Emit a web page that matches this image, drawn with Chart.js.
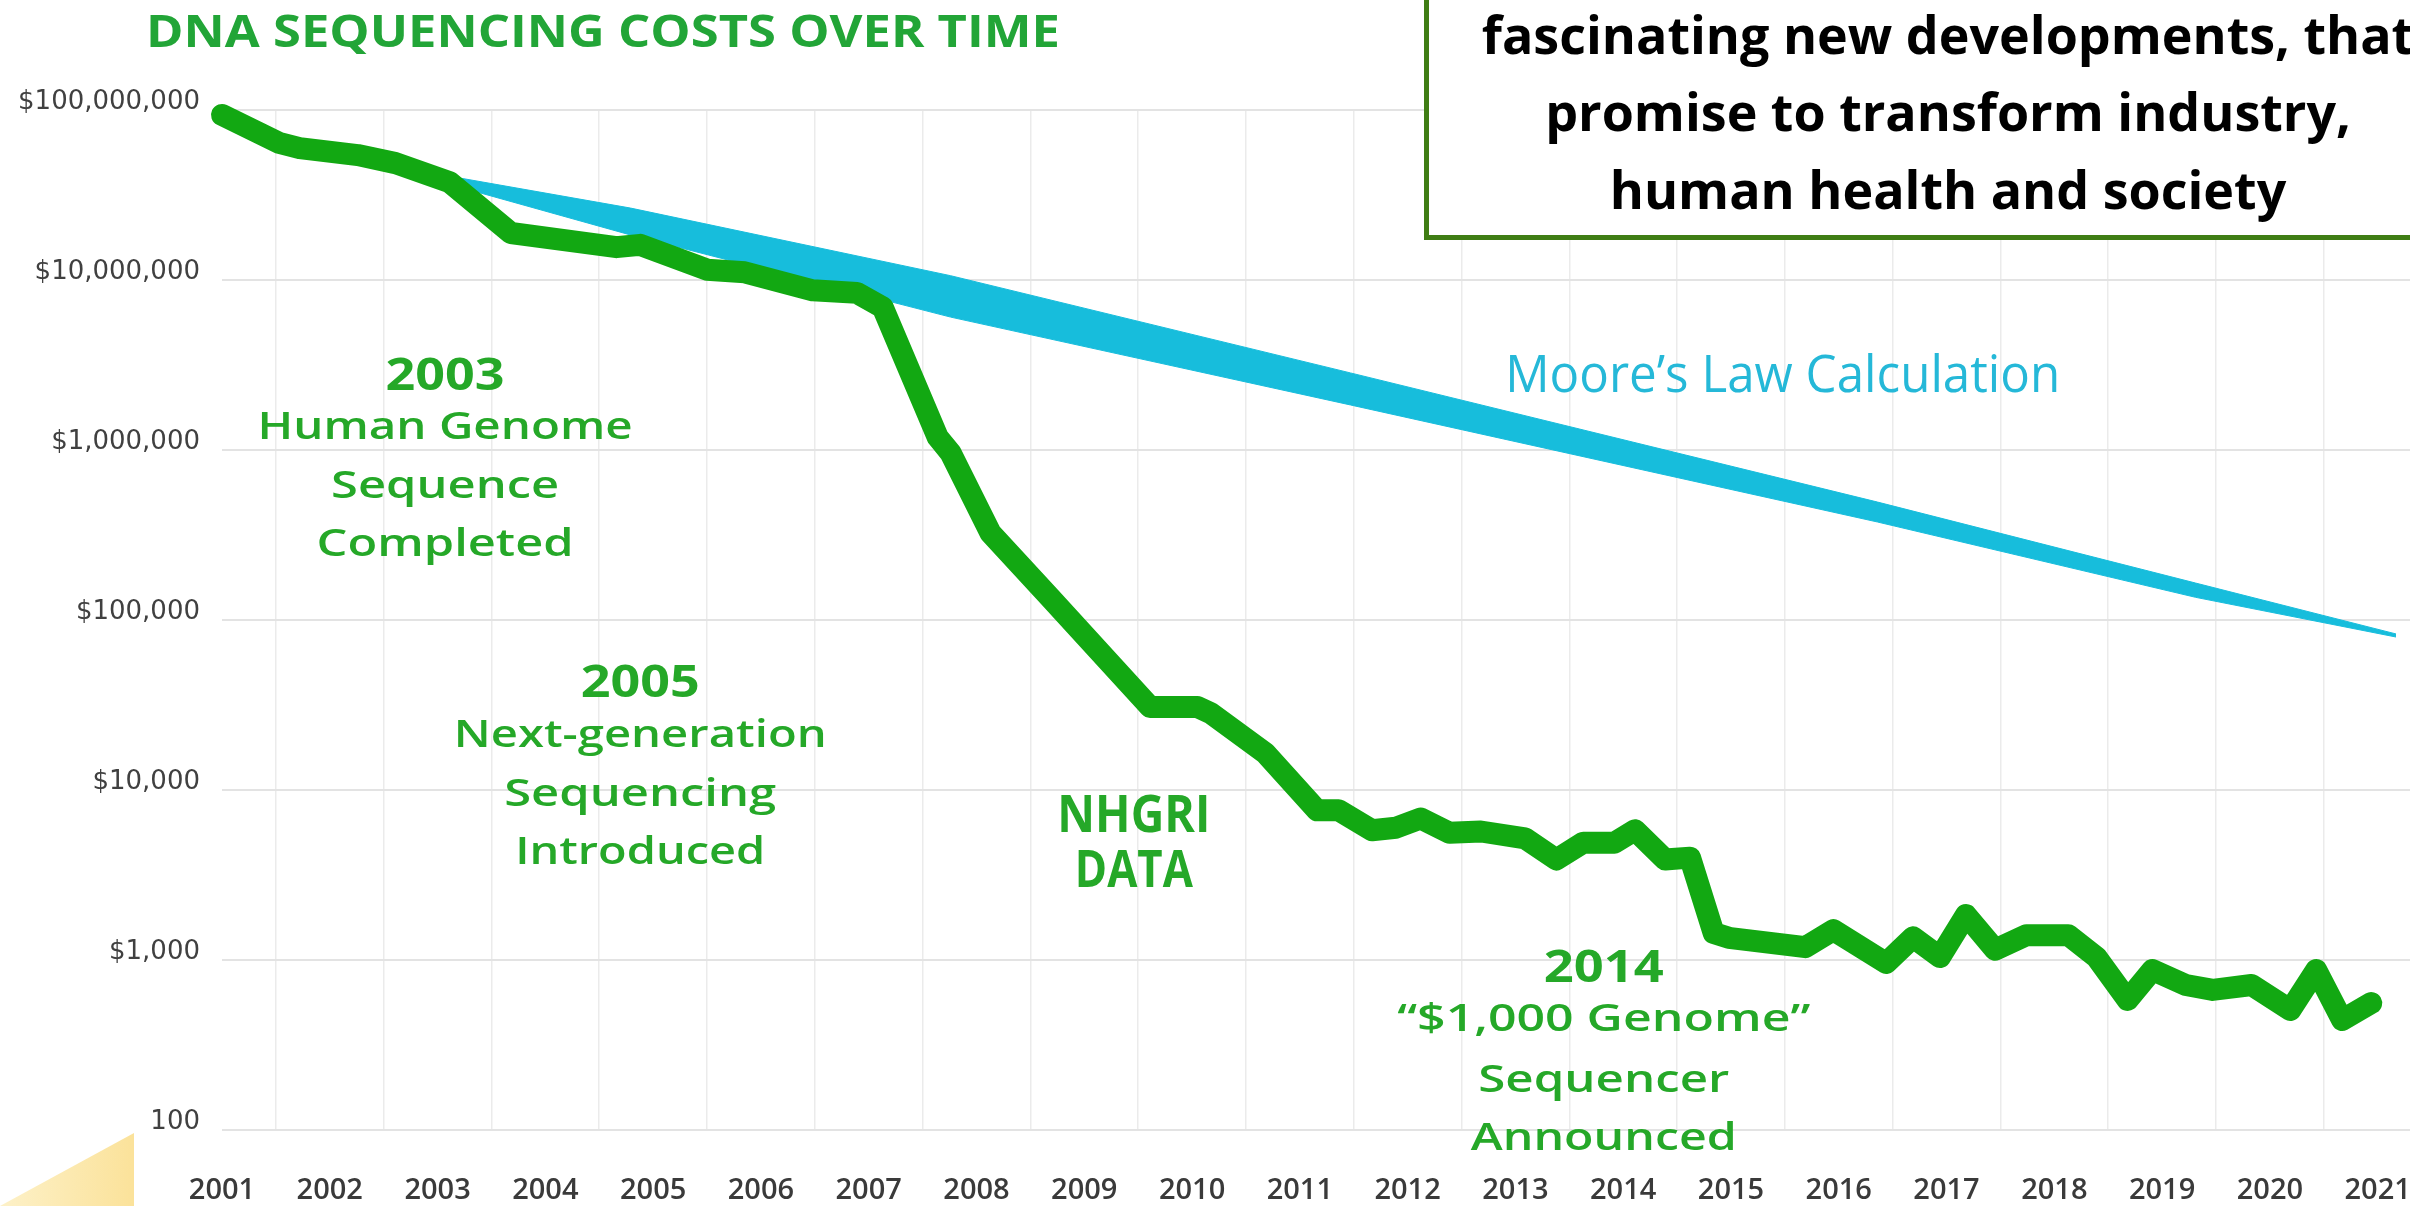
<!DOCTYPE html>
<html>
<head>
<meta charset="utf-8">
<title>DNA sequencing costs over time</title>
<script src="https://cdn.jsdelivr.net/npm/chart.js@4.4.1/dist/chart.umd.min.js"></script>
<style>
  html, body { margin: 0; padding: 0; background: #fff; }
  body { position: relative; width: 2410px; height: 1206px; overflow: hidden; }
  #chart { position: absolute; left: 0; top: 0; display: block; }
  .note {
    position: absolute; left: 1424px; top: -50px; width: 1038px;
    padding: 39.5px 0 8px; border: 5px solid #3f7d14; background: #fff;
    font: 700 52px/77.5px "Open Sans", sans-serif; color: #000;
    text-align: center; white-space: nowrap;
  }
  .wedge {
    position: absolute; left: 0; top: 1133px; width: 134px; height: 73px;
    background: linear-gradient(90deg, #fdf1c8, #fbe29a);
    clip-path: polygon(100% 0, 100% 100%, 0 100%);
  }
</style>
</head>
<body>
<canvas id="chart" width="2410" height="1206"></canvas>
<div class="wedge"></div>
<div class="note">fascinating new developments, that<br>promise to transform industry,<br>human health and society</div>

<script>
// NHGRI cost per genome (USD)
const costYears = [2001.00, 2001.53, 2001.72, 2002.26, 2002.61, 2003.11, 2003.68, 2004.66, 2004.88, 2005.50,
  2005.85, 2006.48, 2006.89, 2007.13, 2007.64, 2007.76, 2008.13, 2008.68, 2009.61, 2010.05,
  2010.17, 2010.68, 2011.16, 2011.36, 2011.67, 2011.89, 2012.12, 2012.39, 2012.68, 2013.09,
  2013.38, 2013.63, 2013.92, 2014.11, 2014.39, 2014.62, 2014.84, 2014.98, 2015.69, 2015.95,
  2016.44, 2016.69, 2016.94, 2017.18, 2017.45, 2017.74, 2018.13, 2018.39, 2018.68, 2018.91,
  2019.22, 2019.47, 2019.83, 2020.19, 2020.43, 2020.67, 2020.94];
const costValues = [93500000, 64000000, 59700000, 54300000, 48700000, 37700000, 18900000, 15600000, 16100000, 11500000,
  11100000, 8700000, 8400000, 6900000, 1190000, 960000, 325000, 136000, 30800, 30800,
  28400, 16500, 7600, 7600, 5800, 6000, 6800, 5600, 5700, 5200,
  3900, 4900, 4900, 5800, 3900, 4000, 1440, 1350, 1190, 1500,
  960, 1360, 1040, 1840, 1150, 1400, 1400, 1040, 582, 873,
  713, 667, 713, 508, 873, 444, 558];

// Moore's law band, upper and lower edge
const mooreYears = [2003.10, 2004.79, 2007.76, 2011.47, 2016.36, 2019.31, 2021.17];
const mooreUpper = [40900000, 26500000, 10600000, 2840000, 494000, 165000, 82800];
const mooreLower = [36700000, 18400000, 6050000, 1840000, 377000, 136000, 79400];

// axes
const yearTicks = [2001, 2002, 2003, 2004, 2005, 2006, 2007, 2008, 2009, 2010, 2011,
  2012, 2013, 2014, 2015, 2016, 2017, 2018, 2019, 2020, 2021];
const costTicks = [100, 1000, 10000, 100000, 1000000, 10000000, 100000000];
const costTickLabels = ["100", "$1,000", "$10,000", "$100,000", "$1,000,000", "$10,000,000", "$100,000,000"];

const green = "#12a812";
const textGreen = "#25a828";
const cyan = "#17bddc";

// annotations: at = [year, log10 of cost at the baseline], width = drawn text width
const notes = [
  { text: "2003", at: [2003.07, 6.353], size: 44, weight: 700, width: 119, color: textGreen },
  { text: "Human Genome", at: [2003.07, 6.065], size: 38, weight: 600, width: 375, color: textGreen },
  { text: "Sequence", at: [2003.07, 5.718], size: 38, weight: 600, width: 228, color: textGreen },
  { text: "Completed", at: [2003.07, 5.376], size: 38, weight: 600, width: 257, color: textGreen },
  { text: "2005", at: [2004.88, 4.547], size: 44, weight: 700, width: 119, color: textGreen },
  { text: "Next-generation", at: [2004.88, 4.253], size: 38, weight: 600, width: 373, color: textGreen },
  { text: "Sequencing", at: [2004.88, 3.906], size: 38, weight: 600, width: 272, color: textGreen },
  { text: "Introduced", at: [2004.88, 3.565], size: 38, weight: 600, width: 250, color: textGreen },
  { text: "NHGRI", at: [2009.46, 3.753], size: 52, weight: 700, width: 153, color: textGreen },
  { text: "DATA", at: [2009.46, 3.429], size: 52, weight: 700, width: 118, color: textGreen },
  { text: "2014", at: [2013.82, 2.871], size: 44, weight: 700, width: 120, color: textGreen },
  { text: "\u201c$1,000 Genome\u201d", at: [2013.82, 2.582], size: 38, weight: 600, width: 413, color: textGreen },
  { text: "Sequencer", at: [2013.82, 2.224], size: 38, weight: 600, width: 251, color: textGreen },
  { text: "Announced", at: [2013.82, 1.882], size: 38, weight: 600, width: 266, color: textGreen },
  { text: "Moore\u2019s Law Calculation", at: [2015.48, 6.341], size: 51, weight: 400, width: 555, color: "#25b8d8" },
  { text: "DNA SEQUENCING COSTS OVER TIME", px: [603, 47], size: 45, weight: 700, width: 914, color: "#22a537" }
];

const slideText = {
  id: "slideText",
  afterDraw(chart) {
    const ctx = chart.ctx;
    const x = chart.scales.x;
    const y = chart.scales.y;
    ctx.save();
    ctx.textAlign = "center";
    ctx.textBaseline = "alphabetic";
    notes.forEach((n) => {
      const px = n.at ? x.getPixelForValue(n.at[0]) : n.px[0];
      const py = n.at ? y.getPixelForValue(Math.pow(10, n.at[1])) : n.px[1];
      ctx.font = n.weight + " " + n.size + 'px "Open Sans", sans-serif';
      const w = ctx.measureText(n.text).width;
      ctx.save();
      ctx.translate(px, py);
      ctx.scale(n.width / w, 1);
      ctx.fillStyle = n.color;
      ctx.fillText(n.text, 0, 0);
      ctx.restore();
    });
    ctx.restore();
  }
};

const pairs = (xs, ys) => xs.map((v, i) => ({ x: v, y: ys[i] }));

let ctx = document.getElementById("chart").getContext("2d");
let myChart = new Chart(ctx, {
  type: "line",
  data: {
    datasets: [
      {
        label: "NHGRI data",
        data: pairs(costYears, costValues),
        borderColor: green,
        borderWidth: 22,
        borderJoinStyle: "round",
        borderCapStyle: "round",
        pointRadius: 0,
        fill: false,
        clip: false
      },
      {
        label: "Moore's law upper",
        data: pairs(mooreYears, mooreUpper),
        borderColor: cyan,
        borderWidth: 1,
        pointRadius: 0,
        fill: false
      },
      {
        label: "Moore's law lower",
        data: pairs(mooreYears, mooreLower),
        borderColor: cyan,
        backgroundColor: cyan,
        borderWidth: 1,
        pointRadius: 0,
        fill: "-1"
      }
    ]
  },
  options: {
    responsive: false,
    animation: false,
    devicePixelRatio: 1,
    layout: { padding: { top: 110, right: 0, bottom: 0, left: 0 } },
    plugins: {
      legend: { display: false },
      tooltip: { enabled: false },
      title: { display: false }
    },
    scales: {
      x: {
        type: "linear",
        min: 2001,
        max: 2021.3,
        afterBuildTicks: (s) => { s.ticks = yearTicks.map((v) => ({ value: v })); },
        afterFit: (s) => {
          s.height = 76;
          s.paddingLeft = 0;
          s.paddingRight = 0;
        },
        border: { display: false },
        grid: { offset: true, drawTicks: false, color: "#ebebeb", lineWidth: 1.5 },
        ticks: {
          padding: 43,
          color: "#3a3a3a",
          font: { family: '"Open Sans", sans-serif', size: 29, weight: 600 },
          callback: (v) => String(v)
        }
      },
      y: {
        type: "logarithmic",
        min: 100,
        max: 100000000,
        afterBuildTicks: (s) => { s.ticks = costTicks.map((v) => ({ value: v })); },
        afterFit: (s) => { s.width = 222; },
        border: { display: false },
        grid: { drawTicks: false, color: "#e3e3e3", lineWidth: 2 },
        ticks: {
          padding: 22,
          labelOffset: -8,
          color: "#404040",
          font: { family: '"DejaVu Sans", sans-serif', size: 26 },
          callback: (v) => costTickLabels[costTicks.indexOf(v)]
        }
      }
    }
  },
  plugins: [slideText]
});
</script>
</body>
</html>
